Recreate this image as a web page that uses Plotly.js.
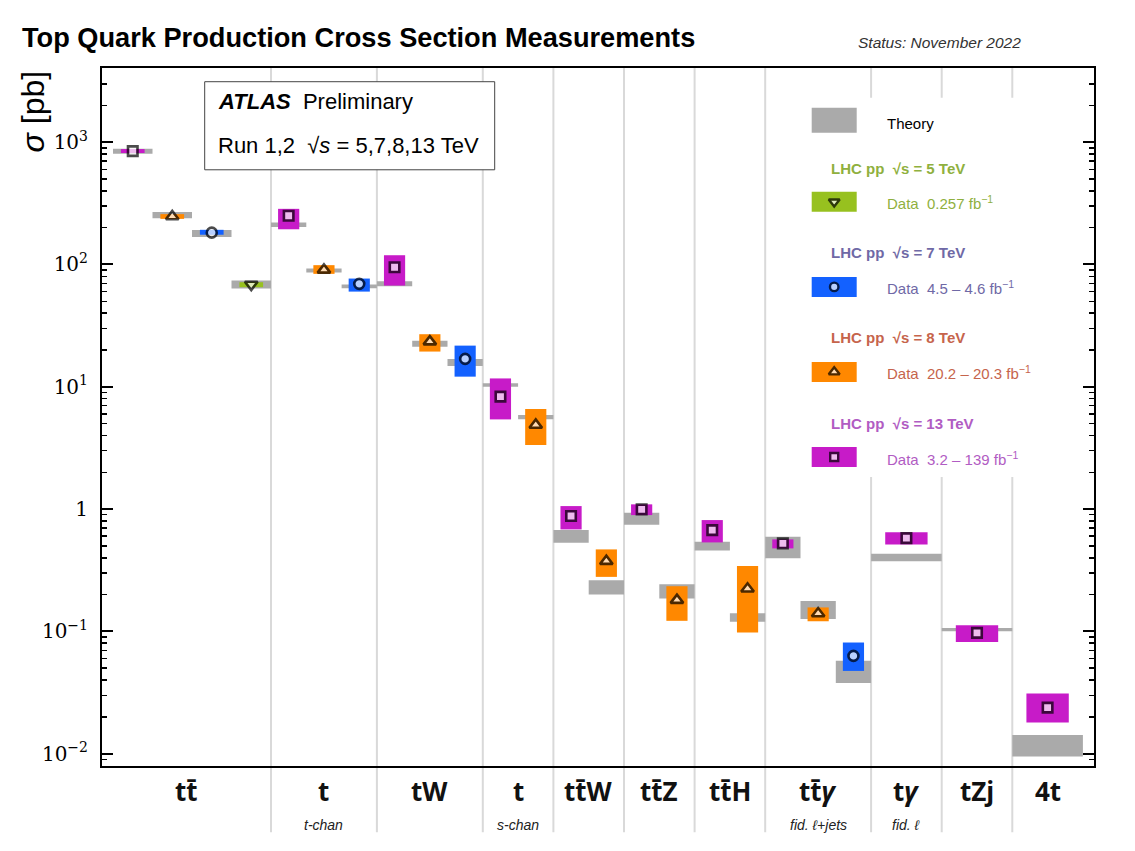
<!DOCTYPE html>
<html><head><meta charset="utf-8">
<script src="https://cdn.plot.ly/plotly-3.0.1.min.js"></script>
<style>html,body{margin:0;padding:0;background:#fff}#chart{width:1135px;height:851px}</style>
</head><body><div id="chart"></div>
<script>
// ---------------- DATA ----------------
const categoryLabels = ['tt\u0304', 't', 'tW', 't', 'tt\u0304W', 'tt\u0304Z', 'tt\u0304H', 'tt\u0304<i>γ</i>', 't<i>γ</i>', 'tZj', '4t'];
const categorySubLabels = ['', 't-chan', '', 's-chan', '', '', '', 'fid. ℓ+jets', 'fid. ℓ', '', ''];

// one entry per measurement
const measCategory = [0, 0, 0, 0, 1, 1, 1, 2, 2, 2, 3, 3, 4, 4, 5, 5, 6, 6, 7, 7, 7, 8, 9, 10];
const measEnergy   = ['13','8','7','5','13','8','7','13','8','7','13','8','13','8','13','8','13','8','13','8','7','13','13','13'];
const dataValue  = [845, 247, 182, 68.5, 250, 90.3, 69.4, 95.0, 23.4, 16.9, 8.30, 4.87, 0.877, 0.375, 0.994, 0.180, 0.673, 0.223, 0.524, 0.140, 0.0630, 0.579, 0.0972, 0.0238];
const dataLow    = [815, 236, 175, 65.2, 194, 83.8, 60.0, 67.2, 19.4, 12.1, 5.41, 3.34, 0.682, 0.279, 0.893, 0.122, 0.534, 0.0979, 0.477, 0.121, 0.0475, 0.514, 0.0820, 0.0180];
const dataHigh   = [878, 258, 192, 71.6, 285, 98.7, 76.7, 119, 26.9, 21.7, 11.7, 6.58, 1.058, 0.468, 1.093, 0.234, 0.813, 0.342, 0.565, 0.157, 0.0811, 0.645, 0.112, 0.0310];
const theoryLow  = [804, 239, 168, 63.5, 202, 85.9, 64.0, 66.3, 21.2, 14.8, 10.0, 5.42, 0.530, 0.200, 0.744, 0.186, 0.459, 0.120, 0.397, 0.126, 0.0379, 0.375, 0.1004, 0.0095];
const theoryHigh = [883, 268, 191, 73.8, 220, 92.6, 68.5, 72.9, 23.8, 16.9, 10.7, 5.88, 0.673, 0.262, 0.933, 0.243, 0.540, 0.141, 0.593, 0.177, 0.0574, 0.431, 0.1068, 0.0142];

const energies = ['5', '7', '8', '13'];
const legendLumi = ['0.257', '4.5 – 4.6', '20.2 – 20.3', '3.2 – 139'];
const yTickVals = [0.01, 0.1, 1, 10, 100, 1000];
const yTickText = ['10<sup>−2</sup>', '10<sup>−1</sup>', '1', '10<sup>1</sup>', '10<sup>2</sup>', '10<sup>3</sup>'];

// ---------------- LAYOUT / STYLE ----------------
const W = 1135, H = 851, L = 102.3, R = 1094.3, T = 68.3, B = 765.7;
const catLeft  = [11, 169, 274.9, 380.8, 451.4, 522.0, 592.6, 663.2, 769.1, 839.7, 910.3];
const catRight = [169, 274.9, 380.8, 451.4, 522.0, 592.6, 663.2, 769.1, 839.7, 910.3, 980.9];
const boxColor = {'13': '#c71bc8', '8': '#ff8800', '7': '#1361ff', '5': '#97c11f'};
const textColor = {'13': '#b15cc3', '8': '#c6644c', '7': '#6f69a6', '5': '#8fb03e'};
const symbolOf = {'13': 'square', '8': 'triangle-up', '7': 'circle', '5': 'triangle-down'};
const sizeOf = {'13': 9.5, '8': 11, '7': 10, '5': 11};
const theoryColor = '#aaaaaa';

const fx = px => (px - L) / (R - L);
const fy = py => (B - py) / (B - T);

// slot positions
const nInCat = catLeft.map((_, c) => measCategory.filter(k => k === c).length);
const seen = catLeft.map(() => 0);
const xCenter = [], slotW = [];
measCategory.forEach(c => {
  const w = (catRight[c] - catLeft[c]) / nInCat[c];
  xCenter.push(catLeft[c] + w * (seen[c] + 0.5));
  slotW.push(w);
  seen[c]++;
});

const traces = [];
traces.push({
  type: 'bar', x: xCenter, base: theoryLow, y: theoryHigh.map((h, i) => h - theoryLow[i]),
  width: slotW, marker: {color: theoryColor, line: {width: 0}}, hoverinfo: 'skip', showlegend: false
});
traces.push({
  type: 'bar', x: xCenter, base: dataLow, y: dataHigh.map((h, i) => h - dataLow[i]),
  width: slotW.map(w => w * 0.6), marker: {color: measEnergy.map(e => boxColor[e]), line: {width: 0}},
  hoverinfo: 'skip', showlegend: false
});
traces.push({
  type: 'scatter', mode: 'markers', x: xCenter, y: dataValue, cliponaxis: false,
  marker: {symbol: measEnergy.map(e => symbolOf[e]), size: measEnergy.map(e => sizeOf[e]), color: 'white',
           line: {color: 'black', width: 2.6}},
  hoverinfo: 'skip', showlegend: false
});

// legend geometry (pixels)
const legRowY = [202, 287, 372, 457];
const legHeadY = [169, 253, 338, 423];
const legOrder = ['5', '7', '8', '13'];
traces.push({
  type: 'scatter', mode: 'markers', xaxis: 'x2', yaxis: 'y2', cliponaxis: false,
  x: legOrder.map(() => fx(834.5)), y: legRowY.map(fy),
  marker: {symbol: legOrder.map(e => symbolOf[e]), size: legOrder.map(e => sizeOf[e] - 1.5), color: 'white',
           line: {color: 'black', width: 2.4}},
  hoverinfo: 'skip', showlegend: false
});

const shapes = [];
catRight.slice(0, -1).forEach(xs => {
  shapes.push({type: 'line', xref: 'paper', yref: 'paper', x0: xs / (R - L), x1: xs / (R - L), y0: -0.095, y1: 1,
               line: {color: '#d9d9d9', width: 2}, layer: 'below'});
});
// ATLAS box
shapes.push({type: 'rect', xref: 'paper', yref: 'paper', x0: fx(205), x1: fx(495), y0: fy(170), y1: fy(82),
             fillcolor: 'white', line: {color: '#444', width: 1}, layer: 'below'});
// legend background
shapes.push({type: 'rect', xref: 'paper', yref: 'paper', x0: fx(803), x1: fx(1048), y0: fy(477), y1: fy(98),
             fillcolor: 'white', line: {width: 0}, layer: 'below'});
shapes.push({type: 'rect', xref: 'paper', yref: 'paper', x0: fx(812), x1: fx(857), y0: fy(133), y1: fy(108),
             fillcolor: theoryColor, line: {width: 0}, layer: 'below'});
legOrder.forEach((e, i) => {
  shapes.push({type: 'rect', xref: 'paper', yref: 'paper', x0: fx(812), x1: fx(857), y0: fy(legRowY[i] + 10), y1: fy(legRowY[i] - 10),
               fillcolor: boxColor[e], line: {width: 0}, layer: 'below'});
});

const annotations = [];
const sans = 'Liberation Sans, Arial, sans-serif';
// category labels
categoryLabels.forEach((t, i) => {
  const a = i === 0 ? 0 : catLeft[i];
  const b = catRight[i];
  annotations.push({xref: 'paper', yref: 'paper', x: ((a + b) / 2) / (R - L), y: fy(791), text: t, showarrow: false,
                    xanchor: 'center', yanchor: 'middle', font: {family: 'Open Sans, sans-serif', size: 26, weight: 'bold', color: '#111'}});
  if (categorySubLabels[i]) {
    annotations.push({xref: 'paper', yref: 'paper', x: ((a + b) / 2) / (R - L), y: fy(825), text: '<i>' + categorySubLabels[i] + '</i>',
                      showarrow: false, xanchor: 'center', yanchor: 'middle', font: {family: sans, size: 14, color: '#222'}});
  }
});
// y title
annotations.push({xref: 'paper', yref: 'paper', x: fx(33), y: fy(112), text: '<i>σ</i> [pb]', textangle: -90, showarrow: false,
                  xanchor: 'center', yanchor: 'middle', font: {family: sans, size: 32, color: 'black'}});
// status
annotations.push({xref: 'paper', yref: 'paper', x: fx(856), y: fy(43), text: '<i>Status: November 2022</i>', showarrow: false,
                  xanchor: 'left', yanchor: 'middle', font: {family: sans, size: 15.5, color: '#333'}});
// ATLAS box text
annotations.push({xref: 'paper', yref: 'paper', x: fx(216), y: fy(102), text: '<b><i>ATLAS</i></b>\u00a0\u00a0Preliminary', showarrow: false,
                  xanchor: 'left', yanchor: 'middle', font: {family: sans, size: 22, color: 'black'}});
annotations.push({xref: 'paper', yref: 'paper', x: fx(216), y: fy(146), text: 'Run 1,2\u00a0\u00a0√<i>s</i> = 5,7,8,13 TeV', showarrow: false,
                  xanchor: 'left', yanchor: 'middle', font: {family: sans, size: 22, color: 'black'}});
// legend texts
annotations.push({xref: 'paper', yref: 'paper', x: fx(885), y: fy(124), text: 'Theory', showarrow: false,
                  xanchor: 'left', yanchor: 'middle', font: {family: sans, size: 15, color: 'black'}});
legOrder.forEach((e, i) => {
  annotations.push({xref: 'paper', yref: 'paper', x: fx(829), y: fy(legHeadY[i]), text: '<b>LHC pp\u00a0\u00a0√s = ' + e + ' TeV</b>', showarrow: false,
                    xanchor: 'left', yanchor: 'middle', font: {family: sans, size: 15, color: textColor[e]}});
  annotations.push({xref: 'paper', yref: 'paper', x: fx(885), y: fy(legRowY[i] + 1), text: 'Data\u00a0\u00a0' + legendLumi[energies.indexOf(e)] + ' fb<sup>−1</sup>', showarrow: false,
                    xanchor: 'left', yanchor: 'middle', font: {family: sans, size: 15, color: textColor[e]}});
});

const minorVals = [];
for (let d = -3; d <= 3; d++) for (let m = 2; m <= 9; m++) minorVals.push(m * Math.pow(10, d));

const layout = {
  width: W, height: H,
  margin: {l: L, r: W - R, t: T, b: H - B, pad: 0},
  paper_bgcolor: 'white', plot_bgcolor: 'white',
  showlegend: false,
  barmode: 'overlay',
  title: {text: '<b>Top Quark Production Cross Section Measurements</b>', xref: 'container', yref: 'container',
          x: 22 / W, xanchor: 'left', y: 1 - 37 / H, yanchor: 'middle',
          font: {family: sans, size: 27.2, color: 'black'}},
  xaxis: {range: [0, R - L], showline: true, mirror: true, linewidth: 2, linecolor: 'black', ticks: '',
          showticklabels: false, showgrid: false, zeroline: false, fixedrange: true},
  yaxis: {type: 'log', range: [-2.1007, 3.6064], showline: true, mirror: 'allticks', linewidth: 2, linecolor: 'black',
          ticks: 'inside', ticklen: 11, tickwidth: 2, tickcolor: 'black', tickvals: yTickVals, ticktext: yTickText,
          ticklabelstandoff: 8,
          tickfont: {family: 'DejaVu Serif, serif', size: 20, color: 'black'}, showgrid: false, zeroline: false,
          minor: {tickvals: minorVals, ticks: 'inside', ticklen: 5, tickwidth: 1.5, tickcolor: 'black', showgrid: false},
          fixedrange: true},
  xaxis2: {overlaying: 'x', range: [0, 1], visible: false, fixedrange: true},
  yaxis2: {overlaying: 'y', range: [0, 1], visible: false, fixedrange: true},
  shapes: shapes,
  annotations: annotations
};

Plotly.newPlot('chart', traces, layout, {staticPlot: true, displayModeBar: false});
</script></body></html>
